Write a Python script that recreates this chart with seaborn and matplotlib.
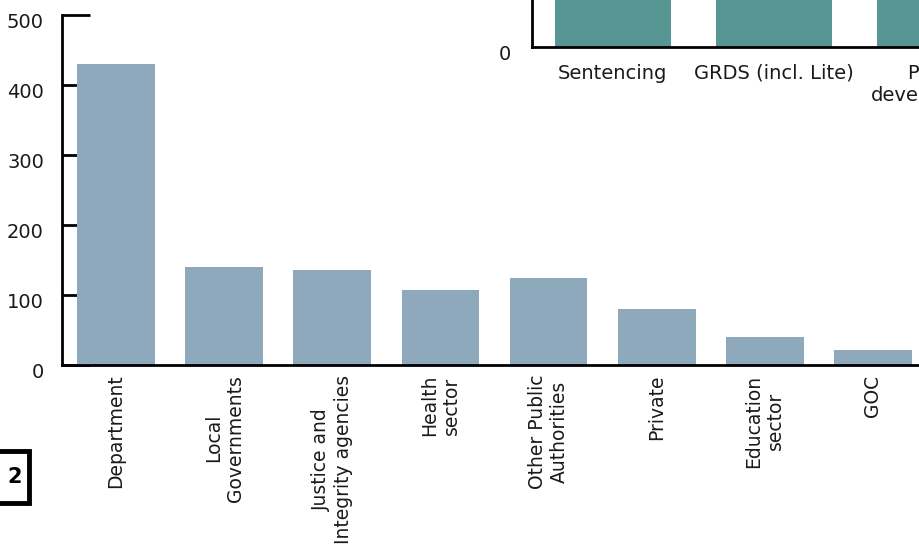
import matplotlib
matplotlib.use("Agg")
import matplotlib.pyplot as plt
import seaborn as sns
import pandas as pd
from matplotlib.transforms import ScaledTranslation
from matplotlib.patches import Rectangle

categories = ["Department", "Local\nGovernments", "Justice and\nIntegrity agencies",
              "Health\nsector", "Other Public\nAuthorities", "Private",
              "Education\nsector", "GOC"]
values = [430, 140, 136, 107, 124, 80, 40, 21]
yticks = [0, 100, 200, 300, 400, 500]

inset_categories = ["Sentencing", "GRDS (incl. Lite)", "Policy\ndevelopment"]
inset_values = [100, 100, 100]

sns.set_theme(style="white")
plt.rcParams['font.family'] = ['DejaVu Sans']
TXT = "#1a1a1a"
FS = 14
XFS = 13.5

W, H = 919, 547
fig = plt.figure(figsize=(W / 100, H / 100), dpi=100)

# main axes
x0, x1, ytop, ybot = 62, 927, 15, 365
ax = fig.add_axes([x0 / W, (H - ybot) / H, (x1 - x0) / W, (ybot - ytop) / H])
df = pd.DataFrame({"cat": categories, "val": values})
sns.barplot(data=df, x="cat", y="val", color="#8fa9bc", saturation=1, width=0.72,
            linewidth=0, edgecolor="none", ax=ax)
ax.set_xlim(-0.5, 7.5)
ax.set_ylim(0, 500)
ax.set_yticks(yticks)
ax.set_yticklabels([str(v) for v in yticks])
ax.set_xlabel("")
ax.set_ylabel("")
ax.set_axisbelow(True)
for s in ["top", "right"]:
    ax.spines[s].set_visible(False)
for s in ["left", "bottom"]:
    ax.spines[s].set_color("black")
    ax.spines[s].set_linewidth(2)
ax.tick_params(axis="y", direction="in", length=20, width=2, color="black",
               pad=13, labelsize=FS, labelcolor=TXT, left=True)
ax.tick_params(axis="x", length=0, pad=7, labelsize=XFS, labelcolor=TXT)
for lbl in ax.get_xticklabels():
    lbl.set_rotation(90)
    lbl.set_ha("center")
    lbl.set_va("top")
    lbl.set_multialignment("center")
off = ScaledTranslation(0, -5 / 100, fig.dpi_scale_trans)
for lbl in ax.get_yticklabels():
    lbl.set_transform(lbl.get_transform() + off)

# inset (partially visible second chart)
ix0, ibase = 532, 47
ax2 = fig.add_axes([ix0 / W, (H - ibase) / H, (1100 - ix0) / W, 200 / H])
df2 = pd.DataFrame({"cat": inset_categories, "val": inset_values})
sns.barplot(data=df2, x="cat", y="val", color="#589693", saturation=1, width=0.72,
            linewidth=0, edgecolor="none", ax=ax2)
ax2.set_xlim(-0.5, 3.02)
ax2.set_ylim(0, 50)
ax2.set_yticks([0])
ax2.set_yticklabels(["0"])
ax2.set_xlabel("")
ax2.set_ylabel("")
for s in ["top", "right"]:
    ax2.spines[s].set_visible(False)
for s in ["left", "bottom"]:
    ax2.spines[s].set_color("black")
    ax2.spines[s].set_linewidth(2)
ax2.spines["left"].set_zorder(3)
ax2.tick_params(axis="y", length=0, pad=15, labelsize=FS, labelcolor=TXT)
ax2.tick_params(axis="x", length=0, pad=12, labelsize=FS, labelcolor=TXT)
for lbl in ax2.get_yticklabels():
    lbl.set_transform(lbl.get_transform() + off)

# page element: boxed "2"
fig.patches.append(Rectangle((-10 / W, (H - 503) / H), 39 / W, 52 / H,
                             transform=fig.transFigure, fill=False,
                             edgecolor="black", linewidth=3.5))
fig.text(7 / W, (H - 477) / H, "2", fontsize=15, fontweight="bold",
         color="black", ha="left", va="center")

fig.savefig("out.png", dpi=100)
